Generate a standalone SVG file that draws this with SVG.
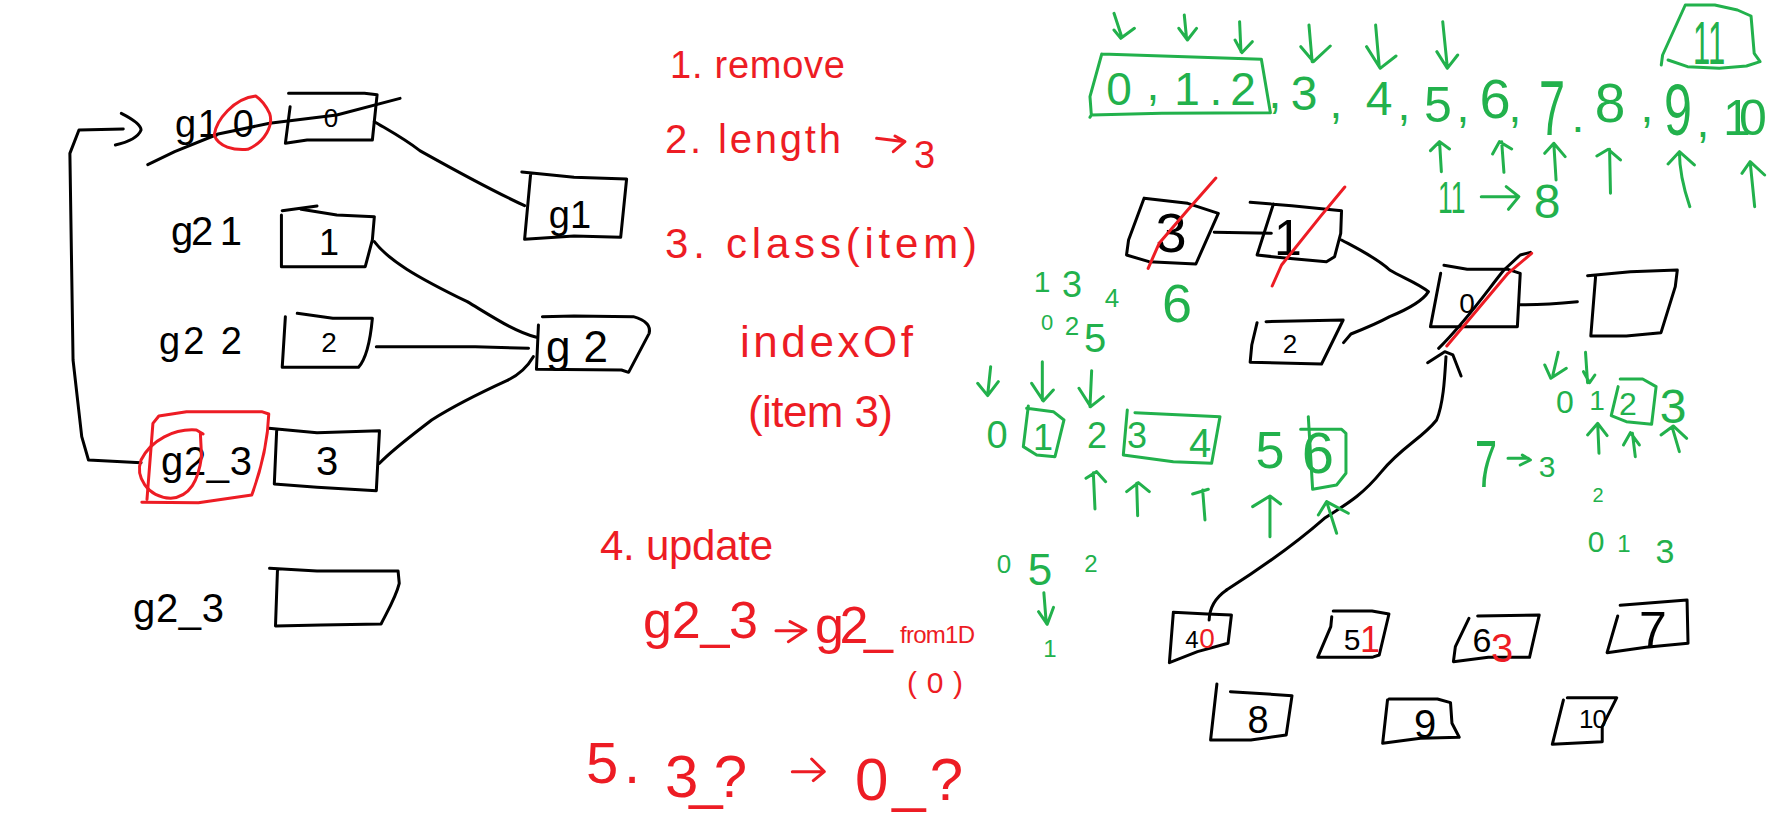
<svg xmlns="http://www.w3.org/2000/svg" width="1791" height="833" viewBox="0 0 1791 833">
<style>
path{fill:none;stroke-width:3;stroke-linecap:round;stroke-linejoin:round;vector-effect:non-scaling-stroke}
.k{stroke:#000}.r{stroke:#ed1c24}.g{stroke:#22b14c}
text{font-family:"Liberation Sans",Arial,sans-serif}
.kt{fill:#000}.rt{fill:#ed1c24}.gt{fill:#22b14c}
.m{text-anchor:middle}
</style>
<rect width="1791" height="833" fill="#fff"/>

<g id="connectors">
<path class="k" transform="translate(60,60) scale(.3954,.3333)" d="M795 185C830 210 870 235 910 272C990 325 1080 385 1175 437"/>
<path class="k" transform="translate(60,60) scale(.3954,.3333)" d="M795 545C830 600 900 650 1030 725C1100 775 1150 815 1205 832"/>
<path class="k" transform="translate(60,60) scale(.3954,.3333)" d="M800 860L1050 860L1185 865"/>
<path class="k" transform="translate(60,340) scale(.3954,.3333)" d="M808 370C840 330 880 295 940 240C1000 195 1060 160 1130 122C1160 105 1180 85 1197 50"/>
<path class="k" transform="translate(60,340) scale(.3954,.3333)" d="M160 -633L48 -630L25 -560L33 60L55 290L72 360L205 368"/>
<path class="k" transform="translate(60,340) scale(.3954,.3333)" d="M155 -680Q205 -650 205 -630Q195 -600 140 -585"/>
<path class="k" transform="translate(1100,190) scale(.408,.3333)" d="M280 127L420 130"/>
<path class="k" transform="translate(1100,190) scale(.408,.3333)" d="M592 150C630 175 680 205 710 240C740 262 780 280 805 305C790 335 750 360 710 380C680 400 640 420 615 432L597 458"/>
<path class="k" transform="translate(1100,190) scale(.408,.3333)" d="M1030 344C1080 345 1130 340 1170 335"/>
<path class="k" transform="translate(1100,190) scale(.408,.3333)" d="M803 518L845 485L865 495L885 558"/>
<path class="k" transform="translate(1100,190) scale(.408,.3333)" d="M848 500C845 560 842 640 825 690C790 745 740 770 690 845C640 920 600 945 550 985C480 1060 400 1130 310 1200"/>
<path class="k" transform="translate(960,530) scale(.4847,.3333)" d="M550 180C530 200 515 230 514 270"/>
</g>

<g id="node-g1-0">
<text class="kt" x="175" y="137" font-size="38" textLength="79">g1 0</text>
<path class="k" transform="translate(60,60) scale(.3954,.3333)" d="M578 100H770L802 104L790 240L625 240L570 250L582 140"/>
<text class="kt m" x="331" y="127" font-size="26">0</text>
<path class="k" transform="translate(60,60) scale(.3954,.3333)" d="M222 314L290 275L400 222L530 190L700 165L860 115"/>
<path class="r" transform="translate(60,60) scale(.3954,.3333)" d="M495 108C440 115 395 180 390 225C400 260 440 272 475 268C520 245 540 195 530 160C520 135 510 120 495 108Z"/>
</g>
<g id="node-g1">
<path class="k" transform="translate(60,60) scale(.3954,.3333)" d="M1168 336L1300 352L1433 357L1418 532L1300 528L1175 538L1190 345"/>
<text class="kt m" x="570" y="228" font-size="38">g1</text>
</g>
<g id="node-g2-1">
<text class="kt" x="171" y="245" font-size="40" textLength="71">g2 1</text>
<path class="k" transform="translate(60,60) scale(.3954,.3333)" d="M562 452L650 438M610 448L700 465L795 470L790 540L772 620H560L560 465"/>
<text class="kt m" x="329" y="255" font-size="36">1</text>
</g>
<g id="node-g2-2">
<text class="kt" x="159" y="354" font-size="38" textLength="83">g2 2</text>
<path class="k" transform="translate(60,340) scale(.3954,.3333)" d="M600 -80L690 -65H790C785 0 775 55 755 82L562 82L570 -70"/>
<text class="kt m" x="329" y="352" font-size="28">2</text>
</g>
<g id="node-g2">
<path class="k" transform="translate(60,340) scale(.3954,.3333)" d="M1220 -70L1300 -72L1450 -70C1480 -60 1495 -45 1490 -20L1438 97L1420 90L1205 88L1210 -45"/>
<text class="kt m" x="577" y="362" font-size="44" textLength="62">g2</text>
</g>
<g id="node-g2-3">
<text class="kt" x="161" y="475" font-size="40" textLength="91">g2_3</text>
<path class="k" transform="translate(60,340) scale(.3954,.3333)" d="M528 265L650 278L808 272L800 452L650 442L542 432L548 270"/>
<text class="kt m" x="327" y="475" font-size="40">3</text>
<path class="r" transform="translate(60,340) scale(.3954,.3333)" d="M207 487L350 488L485 465C505 400 525 320 528 222L510 215L320 215L250 228L235 250L220 478"/>
<path class="r" transform="translate(60,340) scale(.3954,.3333)" d="M362 282L345 270C290 265 230 300 205 360C190 410 220 470 280 475C330 470 350 420 358 350L355 280"/>
</g>
<g id="node-g2-3-new">
<text class="kt" x="133" y="622" font-size="40" textLength="91">g2_3</text>
<path class="k" transform="translate(60,340) scale(.3954,.3333)" d="M530 685L650 693H855L858 730C850 770 830 810 812 852L660 855L545 858L550 690"/>
</g>

<g id="steps">
<text class="rt" x="670" y="78" font-size="38" textLength="175">1. remove</text>
<text class="rt" x="665" y="153" font-size="40" textLength="176">2. length</text>
<path class="r" transform="translate(580,30) scale(.3333)" d="M890 325L975 335M940 365L975 335L945 318"/>
<text class="rt" x="914" y="168" font-size="38">3</text>
<text class="rt" x="665" y="258" font-size="42" textLength="312">3. class(item)</text>
<text class="rt" x="740" y="357" font-size="44" textLength="173">indexOf</text>
<text class="rt" x="748" y="427" font-size="44" textLength="145">(item 3)</text>
<text class="rt" x="600" y="560" font-size="42" textLength="173">4. update</text>
<text class="rt" x="643" y="638" font-size="52" textLength="115">g2_3</text>
<path class="r" transform="translate(580,510) scale(.3333)" d="M588 362L670 362M625 395L678 360L630 335"/>
<text class="rt" x="815" y="643" font-size="52" textLength="78">g2_</text>
<text class="rt" x="900" y="643" font-size="24" textLength="75">from1D</text>
<text class="rt" x="907" y="693" font-size="30" textLength="56">(0)</text>
<text class="rt" x="586 624" y="783 783" font-size="58">5.</text>
<text class="rt" x="665" y="797" font-size="60" textLength="82">3_?</text>
<path class="r" transform="translate(580,510) scale(.3333)" d="M637 785L730 785M700 812L733 785L695 747"/>
<text class="rt" x="855" y="800" font-size="60" textLength="108">0_?</text>
</g>

<g id="green-array">
<path class="g" transform="translate(1080,0) scale(.4534,.3333)" d="M48 162L400 178L420 338L180 340L25 345L22 352M25 345L22 290L48 162"/>
<text class="gt m" font-size="46" x="1119 1153 1187 1216 1243" y="105 100 105 105 105">0,1.2</text>
<text class="gt m" font-size="46" x="1275" y="108">,</text>
<text class="gt m" font-size="48" x="1304" y="110">3</text>
<text class="gt m" font-size="46" x="1336" y="118">,</text>
<text class="gt m" font-size="48" x="1379" y="115">4</text>
<text class="gt m" font-size="46" x="1404" y="120">,</text>
<text class="gt m" font-size="50" x="1438" y="122">5</text>
<text class="gt m" font-size="46" x="1463" y="122">,</text>
<text class="gt m" font-size="56" x="1495" y="118">6</text>
<text class="gt m" font-size="46" x="1515" y="122">,</text>
<text class="gt m" font-size="78" x="1552" y="135" transform="translate(1552,0) scale(.6,1) translate(-1552,0)">7</text>
<text class="gt m" font-size="46" x="1578" y="132">.</text>
<text class="gt m" font-size="55" x="1610" y="122">8</text>
<text class="gt m" font-size="46" x="1647" y="122">,</text>
<text class="gt m" font-size="72" x="1678" y="135" transform="translate(1678,0) scale(.7,1) translate(-1678,0)">9</text>
<text class="gt m" font-size="46" x="1703" y="137">,</text>
<text class="gt m" font-size="50" x="1737 1753" y="135 135">10</text>
<text class="gt" font-size="44" x="1438" y="213" transform="translate(1438,0) scale(.6,1) translate(-1438,0)">11</text>
<path class="g" transform="translate(1080,0) scale(.4534,.3333)" d="M885 590L960 590M945 628L968 590L940 560"/>
<text class="gt m" font-size="48" x="1547" y="218">8</text>
<path class="g" transform="translate(1080,0) scale(.4534,.3333)" d="M1282 195L1285 165L1335 15H1400L1450 30L1480 48L1487 160L1500 185L1470 198L1410 205L1340 200L1297 180"/>
<text class="gt" font-size="62" x="1693" y="64" transform="translate(1693,0) scale(.5,1) translate(-1693,0)">11</text>
<path class="g" transform="translate(1080,0) scale(.4534,.3333)" d="M75 40L92 110M75 90L90 115L120 85M230 45L235 115M218 85L237 120L257 85M352 65L355 155M342 120L357 158L380 125M505 75L512 185M487 140L515 185L552 138M652 75L660 200M632 140L662 205L697 168M800 65L810 200M787 155L810 205L833 165"/>
<path class="g" transform="translate(1080,0) scale(.4534,.3333)" d="M797 515L793 425M773 452L793 425L815 447M935 517L930 425M910 462L925 425L952 447M1050 540L1045 430M1025 460L1045 430L1070 470M1170 580L1168 448M1140 468L1165 448L1192 480M1345 620C1330 560 1322 500 1322 455M1297 492L1322 455L1355 495M1488 620L1478 485M1460 520L1478 485L1510 525"/>
</g>

<g id="green-seven">
<text class="gt m" font-size="30" x="1042" y="292">1</text>
<text class="gt m" font-size="36" x="1072" y="297">3</text>
<text class="gt m" font-size="26" x="1112" y="307">4</text>
<text class="gt m" font-size="54" x="1177" y="322">6</text>
<text class="gt m" font-size="22" x="1047" y="330">0</text>
<text class="gt m" font-size="26" x="1072" y="335">2</text>
<text class="gt m" font-size="40" x="1095" y="352">5</text>
<text class="gt m" font-size="38" x="997" y="448">0</text>
<text class="gt m" font-size="36" x="1043" y="450">1</text>
<text class="gt m" font-size="36" x="1097" y="448">2</text>
<text class="gt m" font-size="36" x="1137" y="448">3</text>
<text class="gt m" font-size="40" x="1200" y="457">4</text>
<text class="gt m" font-size="52" x="1270" y="468">5</text>
<text class="gt m" font-size="58" x="1318" y="473">6</text>
<path class="g" transform="translate(960,220) scale(.3333)" d="M205 558L190 680L230 705L285 710L312 600L280 575L200 565M502 570L490 705L640 725L755 730L780 590L525 578M1045 590L1058 808L1130 795L1158 760V640L1145 628H1022"/>
<path class="g" transform="translate(960,220) scale(.3333)" d="M92 440L83 525M53 490L83 527L115 485M247 425L247 540M215 490L250 543L280 510M395 452L390 560M357 505L392 560L430 530"/>
<path class="g" transform="translate(960,220) scale(.3333)" d="M405 867L400 758M378 775L410 755L437 785M533 887L530 790M500 815L535 788L568 815M735 900L728 810M698 822L745 808M930 950L930 830M878 860L930 828L962 852M1130 940L1100 845M1075 885L1100 845L1165 880"/>
<text class="gt m" font-size="26" x="1004" y="573">0</text>
<text class="gt m" font-size="44" x="1040" y="585">5</text>
<text class="gt m" font-size="24" x="1091" y="572">2</text>
<text class="gt m" font-size="24" x="1050" y="657">1</text>
<path class="g" transform="translate(960,530) scale(.4847,.3333)" d="M173 188L178 280M162 245L180 283L193 232"/>
</g>

<g id="green-four">
<path class="g" transform="translate(1100,190) scale(.408,.3333)" d="M1123 487L1110 555M1090 525L1105 565L1143 535M1190 487L1195 578M1185 545L1200 578L1213 555"/>
<text class="gt m" font-size="32" x="1565" y="413">0</text>
<text class="gt m" font-size="28" x="1597" y="410">1</text>
<text class="gt m" font-size="32" x="1628" y="415">2</text>
<text class="gt m" font-size="48" x="1673" y="423">3</text>
<path class="g" transform="translate(1100,190) scale(.408,.3333)" d="M1275 567L1330 567L1363 590L1352 703L1290 695L1253 677L1270 590"/>
<path class="g" transform="translate(1100,190) scale(.408,.3333)" d="M1223 790L1220 705M1195 735L1220 700L1243 737M1312 800L1305 730M1283 765L1300 728L1322 765M1420 785L1402 710M1375 735L1405 708L1438 745"/>
<text class="gt m" font-size="66" x="1486" y="487" transform="translate(1486,0) scale(.6,1) translate(-1486,0)">7</text>
<path class="g" transform="translate(1100,190) scale(.408,.3333)" d="M1000 805L1050 805M1030 825L1055 810L1035 795"/>
<text class="gt m" font-size="30" x="1547" y="477">3</text>
<text class="gt m" font-size="20" x="1598" y="502">2</text>
<text class="gt m" font-size="30" x="1596" y="552">0</text>
<text class="gt m" font-size="24" x="1624" y="552">1</text>
<text class="gt m" font-size="34" x="1665" y="563">3</text>
</g>

<g id="node-r3">
<path class="k" transform="translate(1100,190) scale(.408,.3333)" d="M108 25L215 40L290 70L235 222L120 215L65 195L70 150L108 25"/>
<text class="kt m" x="1171" y="252" font-size="56">3</text>
<path class="r" transform="translate(1100,190) scale(.408,.3333)" d="M118 235L145 160L215 60L284 -36"/>
</g>
<g id="node-r1">
<path class="k" transform="translate(1100,190) scale(.408,.3333)" d="M368 37L470 47L592 62L590 130L575 200L555 215L460 205L385 195L425 42"/>
<text class="kt m" x="1288" y="255" font-size="50">1</text>
<path class="r" transform="translate(1100,190) scale(.408,.3333)" d="M422 288L445 225L540 80L600 -9"/>
</g>
<g id="node-r2">
<path class="k" transform="translate(1100,190) scale(.408,.3333)" d="M407 395L596 390L543 522L368 517L372 465L385 398"/>
<text class="kt m" x="1290" y="353" font-size="26">2</text>
</g>
<g id="node-r0">
<path class="k" transform="translate(1100,190) scale(.408,.3333)" d="M843 226L900 238H1000L1030 250L1023 410H810L835 250"/>
<text class="kt m" x="1467" y="313" font-size="28">0</text>
<path class="k" transform="translate(1100,190) scale(.408,.3333)" d="M830 475C900 390 950 300 990 240L1030 195L1055 187"/>
<path class="r" transform="translate(1100,190) scale(.408,.3333)" d="M850 468L1000 250L1058 190"/>
</g>
<g id="node-rnew">
<path class="k" transform="translate(1100,190) scale(.408,.3333)" d="M1195 257L1300 245L1415 240L1410 290L1375 428L1290 438H1203L1215 255"/>
</g>
<g id="node-b4">
<path class="k" transform="translate(960,530) scale(.4847,.3333)" d="M440 247L510 252L560 255L553 340L490 365L432 398L440 250"/>
<text class="kt m" x="1192" y="648" font-size="24">4</text>
<text class="rt m" x="1207" y="648" font-size="28">0</text>
</g>
<g id="node-b5">
<path class="k" transform="translate(960,530) scale(.4847,.3333)" d="M770 243L850 243L885 252L865 375L850 382L738 382L765 290L767 260"/>
<text class="kt m" x="1352" y="650" font-size="30">5</text>
<text class="rt m" x="1370" y="652" font-size="36">1</text>
</g>
<g id="node-b6">
<path class="k" transform="translate(960,530) scale(.4847,.3333)" d="M1068 258L1195 255L1175 382H1090L1018 395L1022 350L1050 265"/>
<text class="kt m" x="1482" y="652" font-size="34">6</text>
<text class="rt m" x="1502" y="662" font-size="40">3</text>
</g>
<g id="node-b7">
<path class="k" transform="translate(960,530) scale(.4847,.3333)" d="M1362 226L1500 210L1502 340L1415 352L1335 368L1357 258"/>
<text class="kt m" x="1653" y="647" font-size="50">7</text>
</g>
<g id="node-b8">
<path class="k" transform="translate(960,530) scale(.4847,.3333)" d="M558 485L685 497L673 615L600 630H517L530 462"/>
<text class="kt m" x="1258" y="733" font-size="38">8</text>
</g>
<g id="node-b9">
<path class="k" transform="translate(960,530) scale(.4847,.3333)" d="M885 507H985L1012 518L1015 580L1030 622L950 625L872 640L882 510"/>
<text class="kt m" x="1425" y="738" font-size="40">9</text>
</g>
<g id="node-b10">
<path class="k" transform="translate(960,530) scale(.4847,.3333)" d="M1253 503H1355L1325 590V635L1222 643L1245 510"/>
<text class="kt m" x="1593" y="728" font-size="26" textLength="28">10</text>
</g>
</svg>
